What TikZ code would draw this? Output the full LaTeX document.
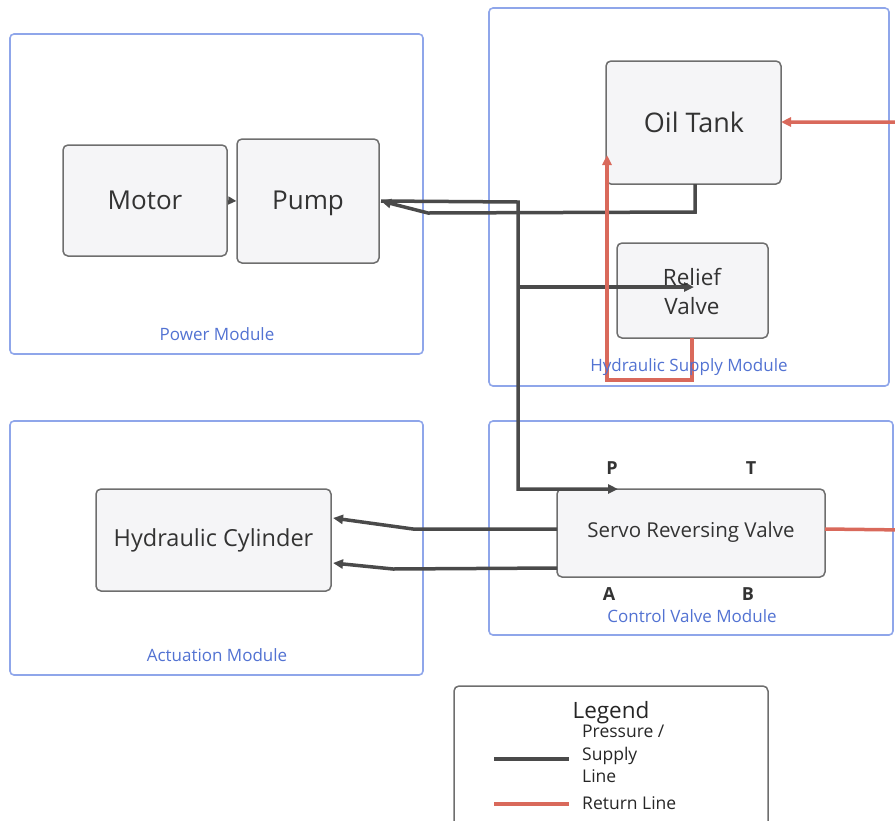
\documentclass[tikz,border=0pt]{standalone}
\usepackage{fontspec}
\setmainfont{Open Sans}
\usetikzlibrary{arrows.meta}
\definecolor{modblue}{HTML}{8FA6EA}
\definecolor{modtext}{HTML}{5272D2}
\definecolor{boxfill}{HTML}{F5F5F7}
\definecolor{boxline}{HTML}{6E6E6E}
\definecolor{supply}{HTML}{4A4A4A}
\definecolor{ret}{HTML}{D9695B}
\tikzset{
  module/.style={draw=modblue, line width=1.6pt, rounded corners=4pt},
  modlabel/.style={text=modtext, font=\fontsize{17}{19}\selectfont},
  comp/.style={draw=boxline, fill=boxfill, line width=1.5pt, rounded corners=5pt, text=black!80, align=center, inner sep=0pt},
  port/.style={font=\bfseries\fontsize{18}{20}\selectfont, text=black!80},
  sup/.style={draw=supply, line width=3.5pt, -{Triangle[length=10pt,width=9pt]}},
  retl/.style={draw=ret, line width=3.5pt, -{Triangle[length=10pt,width=9pt]}},
}
\begin{document}
\begin{tikzpicture}[x=1pt,y=-1pt]
\useasboundingbox (0,0) rectangle (895,820);
\begin{scope}
\clip (0,0) rectangle (895,820);
% modules
\draw[module] (10,34) rectangle (423,354);
\node[modlabel] (lpower) at (217,334) {Power Module};
\draw[module] (489,8) rectangle (889,386);
\draw[module] (10,421) rectangle (423,675);
\node[modlabel] (lact) at (217,655) {Actuation Module};
\draw[module] (489,421) rectangle (893,635);
\node[modlabel] (lctrl) at (692,616) {Control Valve Module};
% components
\node[comp, minimum width=164pt, minimum height=111pt] (motor) at (145,200.5) {};
\node[font=\fontsize{26}{30}\selectfont, text=black!80] (motortext) at (145,200) {Motor};
\node[comp, minimum width=142pt, minimum height=124pt] (pump) at (308,201) {};
\node[font=\fontsize{26}{30}\selectfont, text=black!80, text depth=0pt, anchor=base] (pumptext) at (308,209) {Pump};
\node[comp, minimum width=175pt, minimum height=123pt] (tank) at (693.5,122.5) {};
\node[font=\fontsize{27}{30}\selectfont, text=black!80] (tanktext) at (694,122) {Oil Tank};
\node[comp, minimum width=151pt, minimum height=95pt] (relief) at (692.5,290.5) {};
\node[comp, minimum width=235pt, minimum height=102pt, font=\fontsize{23.5}{27}\selectfont] (cyl) at (213.5,540) {Hydraulic Cylinder};
\node[comp, minimum width=268pt, minimum height=88pt] (servo) at (691,533) {};
\node[font=\fontsize{20.5}{24}\selectfont, text=black!80] (servotext) at (691,532) {Servo Reversing Valve};
\node[port] (pP) at (612,468) {P};
\node[port] (pT) at (751,468) {T};
\node[port] (pA) at (609,594) {A};
\node[port] (pB) at (748,594) {B};
% connectors
\draw[draw=supply, line width=1.5pt, -{Triangle[length=8pt,width=8pt]}] (motor.east) -- (pump.west);
\coordinate (tankb) at (695,184);
\coordinate (pumpin) at (381,201);
\draw[sup] (tankb) -- (695,212) -- (428,213) -- (pumpin);
\coordinate (pin) at (618,489);
\draw[sup] (pumpin) -- (518,202) -- (518,489) -- (pin);
\coordinate (rin) at (694,287);
\draw[sup] (518,287) -- (rin);
% returns
\coordinate (rout) at (692,338);
\coordinate (tankin) at (607,155);
\draw[retl] (rout) -- (692,380) -- (607,380) -- (tankin);
\coordinate (servor) at (825,529);
\coordinate (tankr) at (781,122);
\draw[retl] (servor) -- (905,530) -- (905,122) -- (tankr);
% text over lines
\node[font=\fontsize{22.5}{29}\selectfont, text=black!80, align=center] (relieftext) at (692,291) {Relief\\Valve};
\node[modlabel] (lsupply) at (689,367) {Hydraulic Supply Module};
% actuator lines
\coordinate (cylA) at (333,518);
\coordinate (cylB) at (333,563);
\draw[sup] (557,529) -- (413,529) -- (cylA);
\draw[sup] (557,568) -- (393,569) -- (cylB);
% legend
\node[draw=boxline, line width=1.5pt, rounded corners=5pt, minimum width=314pt, minimum height=160pt, inner sep=0pt] (legend) at (611,766) {};
\node[font=\fontsize{22.5}{24}\selectfont, text=black!85] (legt) at (611,713) {Legend};
\node[font=\fontsize{17.5}{22.5}\selectfont, text=black!85, align=left, anchor=north west, inner sep=0pt] (legsup) at (582,725) {Pressure /\\Supply\\Line};
\node[font=\fontsize{17.5}{20}\selectfont, text=black!85, anchor=west, inner sep=0pt] (legret) at (582,803) {Return Line};
\draw[draw=supply, line width=3.5pt] (494,759) -- (569,759);
\draw[draw=ret, line width=3.5pt] (494,804) -- (569,804);
\end{scope}
\end{tikzpicture}
\end{document}
